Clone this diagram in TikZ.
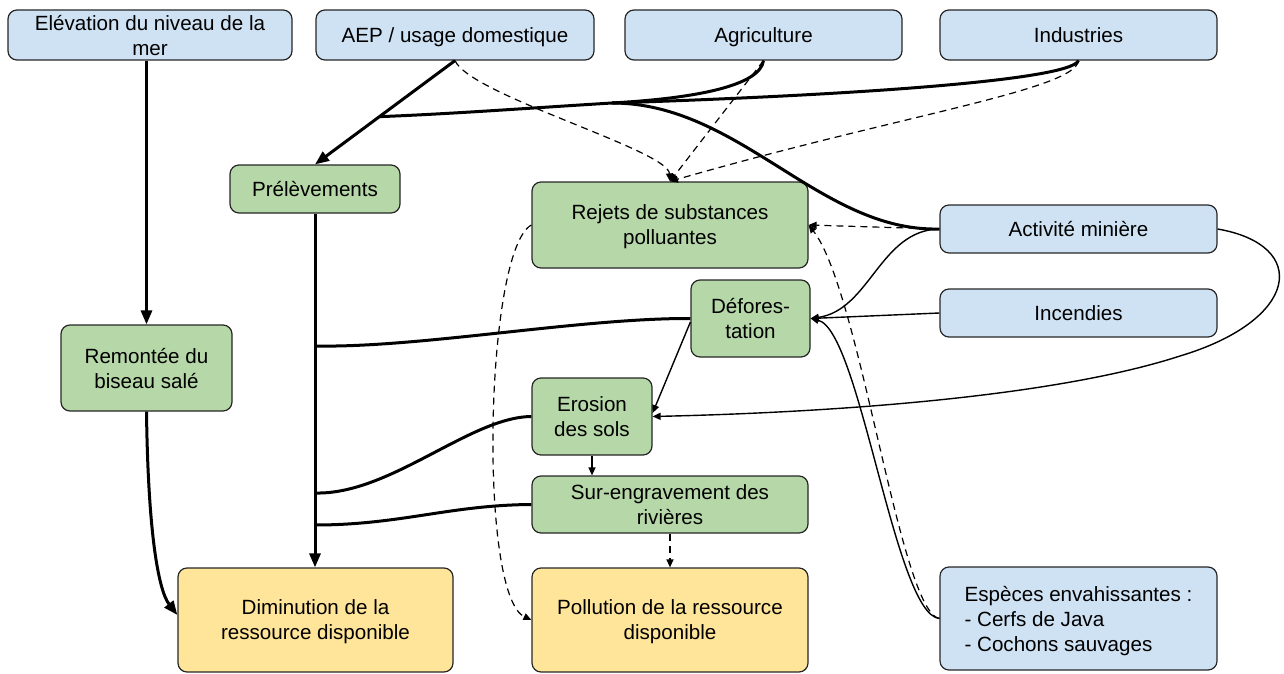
\documentclass[tikz,border=0pt]{standalone}
\usepackage{fontspec}
\setmainfont{Liberation Sans}
\usetikzlibrary{arrows.meta,calc}
\definecolor{bleu}{RGB}{207,226,243}
\definecolor{vert}{RGB}{182,215,168}
\definecolor{jaune}{RGB}{255,229,153}

\begin{document}
\begin{tikzpicture}[x=0.5pt,y=-0.5pt,
    boite/.style={draw=black!85, line width=0.6pt, rounded corners=4.5pt, align=center, inner sep=0pt,
                  text depth=0pt, font=\fontsize{10.3}{12.5}\selectfont},
    source/.style={boite, fill=bleu},
    effet/.style={boite, fill=vert},
    impact/.style={boite, fill=jaune},
    gros/.style={line width=1.5pt, -{Triangle[length=7pt,width=5.5pt]}},
    epais/.style={line width=1.5pt},
    fin/.style={line width=0.7pt, -{Triangle[length=4pt,width=3.5pt]}},
    tirets/.style={line width=0.6pt, dash pattern=on 3.5pt off 2.5pt, -{Triangle[length=4pt,width=3.5pt]}}]
    \useasboundingbox (0,0) rectangle (1284,674);

    % sources
    \node[source, minimum width=142pt, minimum height=25pt] (elev) at (150,35) {Elévation du niveau de la\\mer};
    \node[source, minimum width=139pt, minimum height=25pt] (aep) at (455,35) {AEP / usage domestique};
    \node[source, minimum width=138.5pt, minimum height=25pt] (agri) at (763.5,35) {Agriculture};
    \node[source, minimum width=138.5pt, minimum height=25pt] (indus) at (1078.5,35) {Industries};
    \node[source, minimum width=138.5pt, minimum height=24pt] (mine) at (1078.5,229) {Activité minière};
    \node[source, minimum width=138.5pt, minimum height=24pt] (incend) at (1078.5,313) {Incendies};
    \node[source, align=left, minimum width=138.5pt, minimum height=51.5pt] (especes) at (1078.5,618.5)
        {Espèces envahissantes :\\- Cerfs de Java\\- Cochons sauvages};

    % effets
    \node[effet, minimum width=85pt, minimum height=24pt] (prelev) at (315,189) {Prélèvements};
    \node[effet, minimum width=138pt, minimum height=43pt] (rejets) at (670,225) {Rejets de substances\\polluantes};
    \node[effet, minimum width=59.5pt, minimum height=38.5pt] (defor) at (750.5,318.5) {Défores-\\tation};
    \node[effet, minimum width=85.5pt, minimum height=43pt] (remont) at (146.5,368) {Remontée du\\biseau salé};
    \node[effet, minimum width=60pt, minimum height=38.5pt] (erosion) at (592,416.5) {Erosion\\des sols};
    \node[effet, minimum width=138pt, minimum height=28.5pt] (surengr) at (670,504.5) {Sur-engravement des\\rivières};

    % impacts
    \node[impact, minimum width=137.5pt, minimum height=52pt] (dimin) at (315.5,620) {Diminution de la\\ressource disponible};
    \node[impact, minimum width=138pt, minimum height=52pt] (pollu) at (670,620) {Pollution de la ressource\\disponible};

    % points de jonction
    \coordinate (j1) at ($(aep.south)!0.54!(prelev.north)$);
    \coordinate (m1) at (612,103);
    \coordinate (j2) at (315,346);
    \coordinate (j3) at (315,493);
    \coordinate (j4) at (315,525);

    % prelevements
    \draw[gros] (aep.south) -- (prelev.north);
    \draw[epais] (agri.south) .. controls (760,85) and (700,98) .. (m1);
    \draw[epais] (indus.south) .. controls (1070,80) and (860,95) .. (m1);
    \draw[epais] (mine.west) .. controls (820,232) and (740,103) .. (m1);
    \draw[epais] (m1) .. controls (530,108) and (450,114) .. (j1);

    % rejets
    \draw[tirets] (aep.south) .. controls (470,95) and (668,150) .. (rejets.north);
    \draw[tirets] (agri.south) -- (rejets.north);
    \draw[tirets] (indus.south) .. controls (1075,90) and (900,115) .. (rejets.north);
    \draw[tirets] (mine.west) -- (rejets.east);
    \draw[tirets] (especes.west) .. controls (900,612) and (860,290) .. (rejets.east);

    % deforestation et erosion
    \draw[fin] (mine.west) .. controls (880,230) and (870,310) .. (defor.east);
    \draw[fin] (incend.west) -- (defor.east);
    \draw[fin] (especes.west) .. controls (895,615) and (860,330) .. (defor.east);
    \draw[fin] (mine.east) .. controls (1310,245) and (1300,320) .. (1180,356)
        .. controls (1060,395) and (850,412) .. (erosion.east);
    \draw[fin] ([yshift=-1.75pt]defor.west) -- ([yshift=1.75pt]erosion.east);
    \draw[fin] (erosion.south) -- (erosion.south |- surengr.north);

    % vers la ressource
    \draw[gros] (remont.north |- elev.south) -- (remont.north);
    \draw[gros] (remont.south) .. controls (148,530) and (158,590) .. ([yshift=2.5pt]dimin.west);
    \draw[gros] (prelev.south) -- (prelev.south |- dimin.north);
    \draw[epais] (defor.west) .. controls (580,318) and (420,348) .. (j2);
    \draw[epais] (erosion.west) .. controls (470,417) and (390,495) .. (j3);
    \draw[epais] (surengr.west) .. controls (450,505) and (400,525) .. (j4);
    \draw[tirets] (surengr.south) -- (pollu.north);
    \draw[tirets] (rejets.west) .. controls (485,250) and (478,595) .. (pollu.west);
\end{tikzpicture}
\end{document}
